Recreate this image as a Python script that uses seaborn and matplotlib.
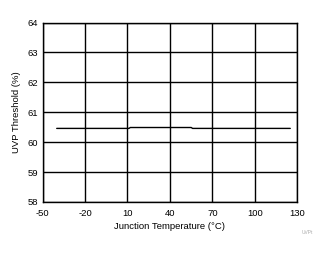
import matplotlib
matplotlib.use("Agg")
import matplotlib.pyplot as plt
import seaborn as sns
import pandas as pd

temperature = [-40, 11, 12, 55, 56, 125]
uvp_threshold = [60.46, 60.46, 60.49, 60.49, 60.46, 60.46]
x_ticks = [-50, -20, 10, 40, 70, 100, 130]
y_ticks = [58, 59, 60, 61, 62, 63, 64]

sns.set_theme(style="white")
plt.rcParams['font.family'] = ['Liberation Sans', 'DejaVu Sans']
plt.rcParams['axes.unicode_minus'] = False

df = pd.DataFrame({"T": temperature, "V": uvp_threshold})

fig = plt.figure(figsize=(3.3, 2.54), dpi=100)
ax = fig.add_axes([0.129, 0.205, 0.772, 0.706])
sns.lineplot(data=df, x="T", y="V", ax=ax, color="black", linewidth=1.0, estimator=None, sort=False)

ax.set_xlim(-50, 130)
ax.set_ylim(58, 64)
ax.set_xticks(x_ticks)
ax.set_yticks(y_ticks)
ax.grid(True, color="black", linewidth=1.0)
ax.set_axisbelow(True)
for s in ax.spines.values():
    s.set_color("black")
    s.set_linewidth(1.0)
ax.tick_params(axis="x", length=0, labelsize=6.8, pad=5, colors="black")
ax.tick_params(axis="y", length=0, labelsize=6.8, pad=3, colors="black")
ax.set_xlabel("Junction Temperature (°C)", fontsize=6.8, labelpad=3, color="black")
ax.set_ylabel("UVP Threshold (%)", fontsize=6.8, labelpad=5, color="black")
fig.text(0.932, 0.077, "UVPt", fontsize=3.5, color="#aaaaaa", ha="center")

fig.savefig("out.png", dpi=100)
